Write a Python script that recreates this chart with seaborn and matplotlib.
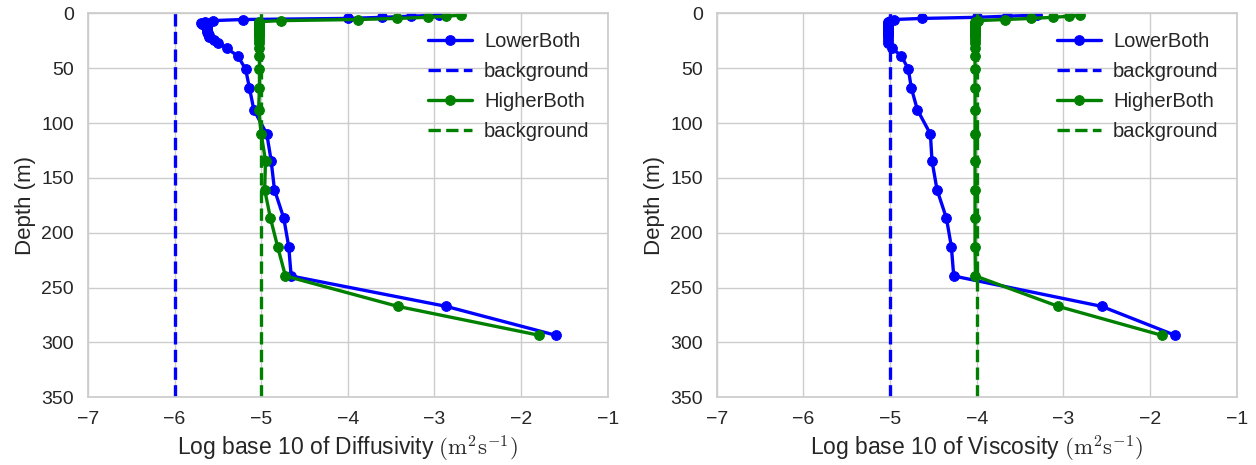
import numpy as np
import pandas as pd
import matplotlib
matplotlib.use("Agg")
import matplotlib.pyplot as plt
import seaborn as sns

# ---------------- data ----------------
depth = [1.5, 2.5, 3.5, 4.5, 5.5, 6.5, 7.5, 8.5, 9.5, 10.5, 11.5, 12.5, 13.5, 14.5,
         15.5, 16.5, 17.5, 18.5, 19.5, 21.1, 24.1, 26.6, 31.7, 38.7, 50.8, 68.1,
         87.8, 110.0, 134.3, 160.7, 186.8, 212.8, 239.5, 267.2, 293.6]

diff_lower = [-2.95, -3.27, -3.60, -4.00, -5.21, -5.56, -5.65, -5.69, -5.68, -5.66,
              -5.64, -5.63, -5.63, -5.62, -5.62, -5.62, -5.61, -5.61, -5.60, -5.60,
              -5.54, -5.50, -5.40, -5.27, -5.18, -5.135, -5.085, -4.935, -4.885,
              -4.847, -4.739, -4.682, -4.654, -2.866, -1.598]
diff_higher = [-2.69, -2.87, -3.08, -3.43, -3.88, -4.77, -5.02, -5.02, -5.02, -5.02,
               -5.02, -5.02, -5.02, -5.02, -5.02, -5.02, -5.02, -5.02, -5.02, -5.02,
               -5.02, -5.02, -5.02, -5.02, -5.02, -5.02, -5.03, -5.00, -4.95,
               -4.96, -4.893, -4.81, -4.72, -3.424, -1.79]
visc_lower = [-3.30, -3.65, -4.00, -4.63, -4.95, -5.00, -5.02, -5.03, -5.03, -5.03,
              -5.03, -5.03, -5.03, -5.03, -5.03, -5.03, -5.03, -5.03, -5.03, -5.03,
              -5.02, -5.02, -4.98, -4.87, -4.79, -4.755, -4.686, -4.535, -4.517,
              -4.459, -4.35, -4.293, -4.266, -2.559, -1.711]
visc_higher = [-2.81, -2.93, -3.12, -3.37, -3.67, -3.99, -4.02, -4.02, -4.02, -4.02,
               -4.02, -4.02, -4.02, -4.02, -4.02, -4.02, -4.02, -4.02, -4.02, -4.02,
               -4.02, -4.02, -4.02, -4.02, -4.02, -4.02, -4.02, -4.02, -4.02,
               -4.02, -4.02, -4.02, -4.015, -3.06, -1.865]

diff_bg_lower = -6
diff_bg_higher = -5
visc_bg_lower = -5
visc_bg_higher = -4

series_names = ["LowerBoth", "HigherBoth"]
xlabels = [r"Log base 10 of Diffusivity $(\mathrm{m}^2\mathrm{s}^{-1})$",
           r"Log base 10 of Viscosity $(\mathrm{m}^2\mathrm{s}^{-1})$"]
xticks = [-7, -6, -5, -4, -3, -2, -1]
yticks = [0, 50, 100, 150, 200, 250, 300, 350]

# ---------------- style ----------------
sns.set_theme(style="whitegrid")
plt.rcParams["font.family"] = ["Liberation Sans", "DejaVu Sans"]
plt.rcParams["mathtext.fontset"] = "cm"
plt.rcParams["axes.edgecolor"] = "0.8"
plt.rcParams["grid.color"] = "0.8"

fig, axes = plt.subplots(1, 2, figsize=(12.56, 4.65), dpi=100)
fig.subplots_adjust(left=0.070, right=0.9846, top=0.971, bottom=0.146, wspace=0.21)

panels = [
    (diff_lower, diff_higher, diff_bg_lower, diff_bg_higher, xlabels[0]),
    (visc_lower, visc_higher, visc_bg_lower, visc_bg_higher, xlabels[1]),
]

for ax, (low, high, bg_low, bg_high, xl) in zip(axes, panels):
    df = pd.DataFrame({"depth": depth, "low": low, "high": high})
    sns.lineplot(data=df, x="low", y="depth", orient="y", ax=ax, color="blue",
                 marker="o", markersize=7, markeredgecolor="blue", linewidth=2.4,
                 label=series_names[0])
    ax.axvline(bg_low, color="blue", linestyle="--", linewidth=2.4, label="background")
    sns.lineplot(data=df, x="high", y="depth", orient="y", ax=ax, color="green",
                 marker="o", markersize=7, markeredgecolor="green", linewidth=2.4,
                 label=series_names[1])
    ax.axvline(bg_high, color="green", linestyle="--", linewidth=2.4, label="background")

    ax.set_xlim(-7, -1)
    ax.set_ylim(350, 0)
    ax.set_xticks(xticks)
    ax.set_yticks(yticks)
    ax.tick_params(labelsize=14, colors="0.15", pad=4)
    ax.set_xlabel(xl, fontsize=16.5, color="0.15")
    ax.set_ylabel("Depth (m)", fontsize=16, color="0.15")
    leg = ax.legend(loc="upper right", fontsize=14.5, frameon=False,
                    handlelength=2.2, handletextpad=0.6, borderaxespad=0.5,
                    labelspacing=0.55)
    for t in leg.get_texts():
        t.set_color("0.15")

fig.savefig("out.png", dpi=100)
